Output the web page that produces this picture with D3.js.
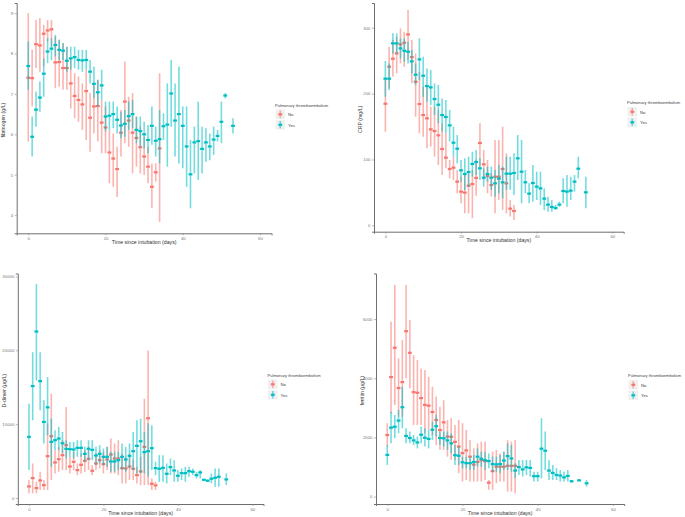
<!DOCTYPE html>
<html><head><meta charset="utf-8">
<script src="https://cdn.jsdelivr.net/npm/d3@7"></script>
<style>body{margin:0;background:#fff}svg{display:block}text{font-family:"Liberation Sans",Arial,sans-serif}</style>
</head><body><svg id="c" width="685" height="517"></svg>
<script>
// ---- DATA: [day, mean, lower, upper] ----
const groups = ["No", "Yes"];
const legendTitle = "Pulmonary thromboembolism";
const xTitle = "Time since intubation (days)";
const xTicks = [0, 20, 40, 60];

const fibTicks = [4, 5, 6, 7, 8, 9];
const fibNo = [[0,7.40,5.82,9.00],[1,7.39,6.69,8.09],[2,8.23,7.64,8.83],[3,8.20,7.55,8.88],[4,8.49,7.68,8.71],[5,8.57,8.30,8.83],[6,8.60,8.17,8.83],[7,7.78,7.14,8.42],[8,7.79,7.18,8.34],[9,7.64,7.10,8.26],[10,7.64,7.10,8.17],[11,7.26,6.64,7.88],[12,6.95,6.40,7.51],[13,6.85,6.31,7.43],[14,6.74,6.11,7.26],[15,7.07,5.86,7.60],[16,6.41,5.57,7.02],[17,6.69,6.02,7.26],[18,6.70,5.82,7.35],[19,6.29,5.53,6.85],[20,6.17,5.53,6.69],[21,5.55,4.79,6.11],[22,5.40,4.70,6.02],[23,5.14,4.45,5.69],[24,6.04,5.45,6.60],[25,6.81,5.78,7.80],[26,6.34,5.69,6.93],[27,6.04,5.03,7.02],[28,5.91,5.20,6.44],[29,5.68,5.03,6.19],[30,5.45,4.99,5.94],[31,5.20,4.79,5.69],[32,4.70,4.17,5.28],[33,5.06,4.83,5.28],[34,5.65,3.83,7.51]];
const fibYes = [[0,7.69,7.10,8.30],[1,5.94,5.45,6.44],[2,6.61,6.19,7.06],[3,6.91,6.56,7.31],[4,7.50,6.93,7.88],[5,8.05,7.76,8.38],[6,8.12,7.84,8.38],[7,8.21,7.93,8.46],[8,8.09,7.84,8.34],[9,8.07,7.84,8.26],[10,7.82,7.55,8.17],[11,7.88,7.60,8.17],[12,7.91,7.64,8.17],[13,7.84,7.60,8.09],[14,7.83,7.55,8.09],[15,7.84,7.60,8.09],[16,7.55,7.26,7.84],[17,7.25,6.89,7.68],[18,7.04,6.69,7.35],[19,7.21,6.85,7.60],[20,6.44,6.07,6.81],[21,6.46,6.11,6.81],[22,6.50,6.15,6.81],[23,6.36,6.02,6.69],[24,6.22,5.90,6.56],[25,6.26,5.94,6.60],[26,6.45,6.11,6.81],[27,6.50,6.15,6.85],[28,6.11,5.78,6.44],[29,6.08,5.69,6.44],[30,6.00,5.65,6.31],[31,5.86,5.53,6.23],[32,6.21,5.74,6.69],[33,5.84,5.45,6.19],[34,5.88,5.28,6.60],[35,6.20,5.86,6.52],[36,6.24,5.20,7.26],[37,7.01,6.19,7.84],[38,6.34,5.45,7.26],[39,6.50,5.28,7.68],[40,6.21,5.16,6.69],[41,5.70,4.70,6.69],[42,5.01,4.17,5.86],[43,5.80,5.03,6.19],[44,5.83,4.87,6.81],[45,5.64,5.03,6.19],[46,5.80,5.32,6.15],[47,5.70,5.36,6.02],[48,5.87,5.49,6.19],[49,5.96,5.82,6.11],[50,6.31,5.78,6.81],[51,6.96,6.89,7.02],[53,6.21,6.02,6.40]];

const crpTicks = [0, 100, 200, 300];
const crpNo = [[0,184.6,142.1,220.5],[1,240.8,207.9,271.1],[2,252.9,225.6,281.2],[3,261.0,230.7,286.3],[4,274.7,245.8,298.9],[5,277.2,240.8,293.9],[6,289.8,250.9,326.8],[7,255.4,215.5,281.2],[8,218.0,164.9,261.0],[9,184.1,139.6,233.2],[10,167.4,134.5,210.4],[11,162.4,116.8,210.4],[12,145.7,119.4,180.1],[13,143.1,104.2,180.1],[14,136.6,91.6,175.0],[15,115.8,76.4,154.8],[16,102.7,86.5,139.6],[17,85.5,71.3,99.1],[18,87.5,68.8,104.2],[19,66.3,48.6,84.0],[20,51.1,33.4,73.8],[21,49.6,18.2,78.9],[22,60.2,18.2,78.9],[23,62.7,10.6,84.0],[24,72.0,45.0,100.0],[25,125.0,89.0,154.8],[26,92.6,68.8,114.3],[27,74.9,48.6,99.1],[28,61.2,43.5,78.9],[29,73.8,18.2,129.5],[30,73.8,38.4,129.5],[31,85.5,23.3,149.7],[32,63.7,18.2,109.3],[33,25.3,13.2,38.4],[34,21.7,8.1,30.9]];
const crpYes = [[0,222.6,195.2,249.4],[1,222.6,205.4,245.8],[2,276.2,261.0,291.4],[3,276.2,261.0,291.4],[4,268.6,253.4,283.8],[5,265.0,248.4,283.8],[6,263.5,245.8,278.7],[7,248.9,230.7,266.1],[8,228.6,213.0,245.8],[9,251.9,220.5,283.8],[10,227.1,195.2,255.9],[11,211.4,187.7,238.2],[12,209.4,182.6,235.7],[13,191.7,167.4,215.5],[14,183.1,154.8,213.0],[15,167.4,142.1,192.7],[16,164.4,139.6,190.2],[17,151.7,127.0,175.0],[18,125.4,104.2,149.7],[19,116.3,94.1,137.1],[20,83.5,66.3,99.1],[21,77.9,53.6,101.7],[22,80.9,58.7,104.2],[23,93.1,73.8,111.8],[24,96.1,76.4,114.3],[25,86.5,68.8,101.7],[26,72.3,58.7,86.5],[27,77.9,66.3,89.0],[28,72.3,53.6,89.0],[29,63.7,43.5,84.0],[30,70.8,48.6,91.6],[31,65.3,41.0,89.0],[32,78.4,53.6,104.2],[33,78.4,53.6,104.2],[34,79.4,46.0,109.3],[35,101.7,68.8,137.1],[36,81.4,33.4,129.5],[37,65.3,48.6,84.0],[38,48.1,33.4,63.7],[39,64.2,35.9,91.6],[40,58.7,38.4,81.4],[41,56.1,30.9,81.4],[42,40.5,23.3,56.1],[43,31.4,20.7,43.5],[44,27.8,20.7,38.4],[45,26.3,23.3,30.9],[46,31.4,28.3,35.9],[47,52.1,33.4,71.3],[48,51.1,28.3,76.4],[49,52.6,38.4,73.8],[50,66.3,51.1,76.4],[51,86.0,71.3,104.2],[53,50.1,25.8,73.8]];

const ddTicks = [0, 10000, 20000, 30000];
const ddNo = [[0,1570,630,2430],[1,2700,630,4680],[2,1350,630,2200],[3,2380,1080,3550],[4,1750,1080,2430],[5,5670,1080,10080],[6,8370,2430,14130],[7,4810,3330,6480],[8,5260,3550,6930],[9,5800,3780,7830],[10,7150,3780,12330],[11,4270,3330,5580],[12,4900,3780,6250],[13,3780,3100,4680],[14,4500,3330,6030],[15,5040,3550,6480],[16,5310,3780,6930],[17,3690,3100,4450],[18,4680,3780,6030],[19,5130,4000,6480],[20,4590,3330,6250],[21,5220,3780,6930],[22,5890,3330,8050],[23,5350,3330,7380],[24,5350,3100,7830],[25,4050,1980,6030],[26,4000,1980,5580],[27,4270,2430,6030],[28,3960,2430,5130],[29,3100,1980,4230],[30,3600,1750,5580],[31,6930,1750,13450],[32,10800,1750,19970],[33,1930,1080,2650],[34,1710,1080,2200]];
const ddYes = [[0,8280,3780,12780],[1,15160,10530,19750],[2,22540,15920,28970],[3,15830,11880,19750],[4,10300,7380,13230],[5,12280,8500,16370],[6,7600,4230,10750],[7,7830,6480,9180],[8,8050,6480,9630],[9,7420,6030,8950],[10,6660,5350,7830],[11,6610,5580,7600],[12,6570,5350,7600],[13,6790,5580,7830],[14,6790,5580,7830],[15,5980,4900,6930],[16,6660,5130,7830],[17,6520,5130,7830],[18,5760,4450,6930],[19,5980,4680,7150],[20,5580,4450,6700],[21,5580,4230,6930],[22,4950,3550,6250],[23,4950,3550,6250],[24,5130,3780,6250],[25,5580,3780,7380],[26,5220,3550,6930],[27,5710,4000,7380],[28,6340,3780,8950],[29,7060,3330,10530],[30,7690,3330,10750],[31,6210,3330,8950],[32,6340,2880,10080],[33,6750,3780,9850],[34,4050,3100,4900],[35,3960,2200,5800],[36,4090,2200,5800],[37,3280,1980,4680],[38,4180,3100,5350],[39,3730,2200,5130],[40,3010,2200,3780],[41,3370,2430,4000],[42,3370,2200,4230],[43,3640,2880,4230],[44,3550,3100,4000],[45,3100,2650,3550],[46,3460,2650,3780],[47,2470,2380,2560],[48,2340,2160,2520],[49,2610,1980,3330],[50,2740,1530,4000],[51,2880,1530,4000],[53,2520,1750,3330]];

const ferTicks = [0, 2000, 4000, 6000];
const ferNo = [[0,2080,1690,2480],[1,4040,2810,5910],[2,5030,3100,7150],[3,3670,2700,4670],[4,3870,2700,5290],[5,5590,4000,7150],[6,4860,3660,5970],[7,3530,2420,4780],[8,3510,2420,4620],[9,3330,2420,4330],[10,3100,2140,4280],[11,3070,2250,4050],[12,2860,2080,3710],[13,2590,1740,3380],[14,2250,1580,3040],[15,2510,1580,3260],[16,2030,1350,2590],[17,2020,1240,2650],[18,1850,1240,2420],[19,1690,790,2590],[20,1470,510,2480],[21,1560,560,2250],[22,1350,510,1910],[23,1080,510,1630],[24,1170,510,1800],[25,1230,510,1860],[26,1200,560,1860],[27,470,230,560],[28,860,230,1520],[29,1010,450,1580],[30,1010,510,1460],[31,1010,510,1520],[32,1040,170,1910],[33,1040,170,1860],[34,1040,110,1910]];
const ferYes = [[0,1410,1070,1740],[1,2330,1800,2870],[2,2360,1970,2760],[3,2570,2140,2930],[4,3020,2310,3710],[5,2050,1800,2310],[6,1980,1800,2200],[7,1900,1740,2080],[8,1830,1630,2030],[9,2090,1800,2360],[10,1990,1690,2310],[11,1950,1630,2250],[12,2260,1910,2530],[13,2380,2030,2760],[14,1980,1740,2200],[15,1970,1690,2200],[16,1900,1580,2200],[17,1800,1460,2140],[18,1400,1070,1740],[19,1380,1070,1690],[20,1160,960,1350],[21,1130,960,1350],[22,1130,900,1350],[23,1170,900,1410],[24,1350,1010,1630],[25,1280,1010,1520],[26,1230,900,1520],[27,1200,960,1460],[28,1100,840,1350],[29,1090,840,1350],[30,1100,790,1410],[31,1220,900,1520],[32,1370,900,1800],[33,1290,840,1740],[34,880,620,1130],[35,1000,730,1240],[36,920,680,1240],[37,990,730,1240],[38,970,680,1240],[39,690,510,840],[40,690,510,840],[41,1620,620,2650],[42,1550,900,2200],[43,880,560,1240],[44,800,560,1070],[45,730,560,960],[46,710,510,900],[47,650,510,840],[48,700,510,900],[49,520,470,560],[51,550,520,590],[53,450,340,560]];

// ---- LAYOUT ----
const colors = {No: "#F8766D", Yes: "#00BFC4"};
const panels = [
  {no: fibNo, yes: fibYes, ticks: fibTicks, yTitle: "fibrinogen (g/L)", yDom: [3.55, 9.25],
   x0: 16.7, x1: 271.6, yTop: 3, yBot: 233.3, legX: 275, legY: 106.5},
  {no: crpNo, yes: crpYes, ticks: crpTicks, yTitle: "CRP (mg/L)", yDom: [-9.7, 337.5],
   x0: 374, x1: 623.7, yTop: 3, yBot: 231.7, legX: 627, legY: 104},
  {no: ddNo, yes: ddYes, ticks: ddTicks, yTitle: "D-dimer (µg/L)", yDom: [-810, 30400],
   x0: 17.8, x1: 263.5, yTop: 273.5, yBot: 504, legX: 267.5, legY: 376.5},
  {no: ferNo, yes: ferYes, ticks: ferTicks, yTitle: "ferritin (µg/L)", yDom: [-250, 7540],
   x0: 376, x1: 624.2, yTop: 273.5, yBot: 504, legX: 628, legY: 377}
];

const svg = d3.select("#c");
panels.forEach(p => {
  const x = d3.scaleLinear().domain([-3, 63]).range([p.x0, p.x1]);
  const y = d3.scaleLinear().domain(p.yDom).range([p.yBot, p.yTop]);
  const g = svg.append("g");

  const xa = g.append("g").attr("transform", `translate(0,${p.yBot})`)
    .call(d3.axisBottom(x).tickValues(xTicks).tickSize(2).tickPadding(1.5).tickFormat(d => d));
  const ya = g.append("g").attr("transform", `translate(${p.x0},0)`)
    .call(d3.axisLeft(y).tickValues(p.ticks).tickSize(2).tickPadding(1.5).tickFormat(d => d));
  [xa, ya].forEach(a => {
    a.select(".domain").attr("stroke", "#6e6e6e").attr("stroke-width", 1);
    a.selectAll(".tick line").attr("stroke", "#888").attr("stroke-width", 0.6);
    a.selectAll(".tick text").attr("fill", "#777").attr("font-size", 4.3);
  });

  g.append("text").attr("x", (x(0) + x(60)) / 2).attr("y", p.yBot + 10.5)
    .attr("text-anchor", "middle").attr("font-size", 5.2).attr("fill", "#333").text(xTitle);
  g.append("text").attr("transform", `translate(${p.x0 - 12},${(p.yTop + p.yBot) / 2 + 2}) rotate(-90)`)
    .attr("text-anchor", "middle").attr("font-size", 5.2).attr("fill", "#333").text(p.yTitle);

  [["No", p.no], ["Yes", p.yes]].forEach(([grp, data]) => {
    const c = colors[grp];
    g.append("g").selectAll("line").data(data).join("line")
      .attr("x1", d => x(d[0])).attr("x2", d => x(d[0]))
      .attr("y1", d => y(d[2])).attr("y2", d => y(d[3]))
      .attr("stroke", c).attr("stroke-width", 1.6).attr("stroke-opacity", 0.55);
    g.append("g").selectAll("rect").data(data).join("rect")
      .attr("x", d => x(d[0]) - 1.9).attr("y", d => y(d[1]) - 1.1)
      .attr("width", 3.8).attr("height", 2.2).attr("fill", c);
  });

  const lg = g.append("g").attr("transform", `translate(${p.legX},${p.legY})`);
  lg.append("text").attr("x", 0).attr("y", 0).attr("font-size", 4.1).attr("fill", "#444").text(legendTitle);
  groups.forEach((grp, i) => {
    const ky = 3 + i * 10.5;
    lg.append("rect").attr("x", 0.5).attr("y", ky).attr("width", 9.5).attr("height", 9.5).attr("fill", "#f0f0f0");
    lg.append("line").attr("x1", 5.25).attr("x2", 5.25).attr("y1", ky + 1).attr("y2", ky + 8.5)
      .attr("stroke", colors[grp]).attr("stroke-width", 1.6).attr("stroke-opacity", 0.55);
    lg.append("rect").attr("x", 3.4).attr("y", ky + 3.7).attr("width", 3.8).attr("height", 2.2).attr("fill", colors[grp]);
    lg.append("text").attr("x", 13).attr("y", ky + 6.6).attr("font-size", 4.3).attr("fill", "#444").text(grp);
  });
});
</script></body></html>
